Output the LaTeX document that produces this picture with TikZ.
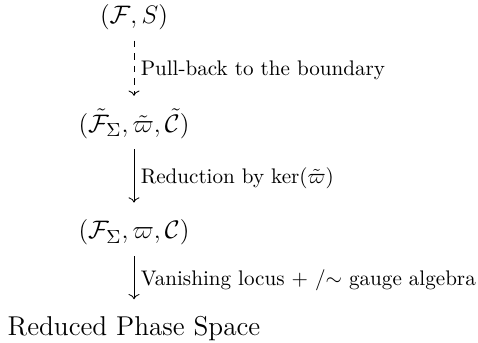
\documentclass[tikz,border=0pt]{standalone}
\usepackage{amsmath,amssymb}
\usepackage{tikz}
\usetikzlibrary{arrows.meta, positioning}

\begin{document}
\begin{tikzpicture}[
    node distance=27.7pt,
    space/.style={font=\fontsize{12.9}{15}\selectfont, inner sep=4.5pt, text height=10pt, text depth=3.5pt},
    arrow/.style={->, shorten >=2.5pt},
    lbl/.style={midway, right, inner sep=3pt, font=\normalsize}
]
\useasboundingbox (0,0) rectangle (226.5pt,-162.1pt);

% --- Spaces ---
\node[space, anchor=base] (bulk) at (63.5pt,-11pt) {$(\mathcal{F}, S)$};
\node[space, below=28.7pt of bulk] (pre) {$(\tilde{\mathcal{F}}_\Sigma, \tilde{\varpi}, \tilde{\mathcal{C}})$};
\node[space, below=of pre] (bdry) {$(\mathcal{F}_\Sigma, \varpi, \mathcal{C})$};
\node[space, below=22.9pt of bdry] (rps) {Reduced Phase Space};

% --- Maps ---
\draw[arrow, dashed] (bulk) -- (pre) node[lbl] {Pull-back to the boundary};
\draw[arrow] (pre) -- (bdry) node[lbl] {Reduction by $\ker(\tilde{\varpi})$};
\draw[arrow] (bdry) -- (rps) node[lbl] {Vanishing locus + $/{\sim}$ gauge algebra};

\end{tikzpicture}
\end{document}
